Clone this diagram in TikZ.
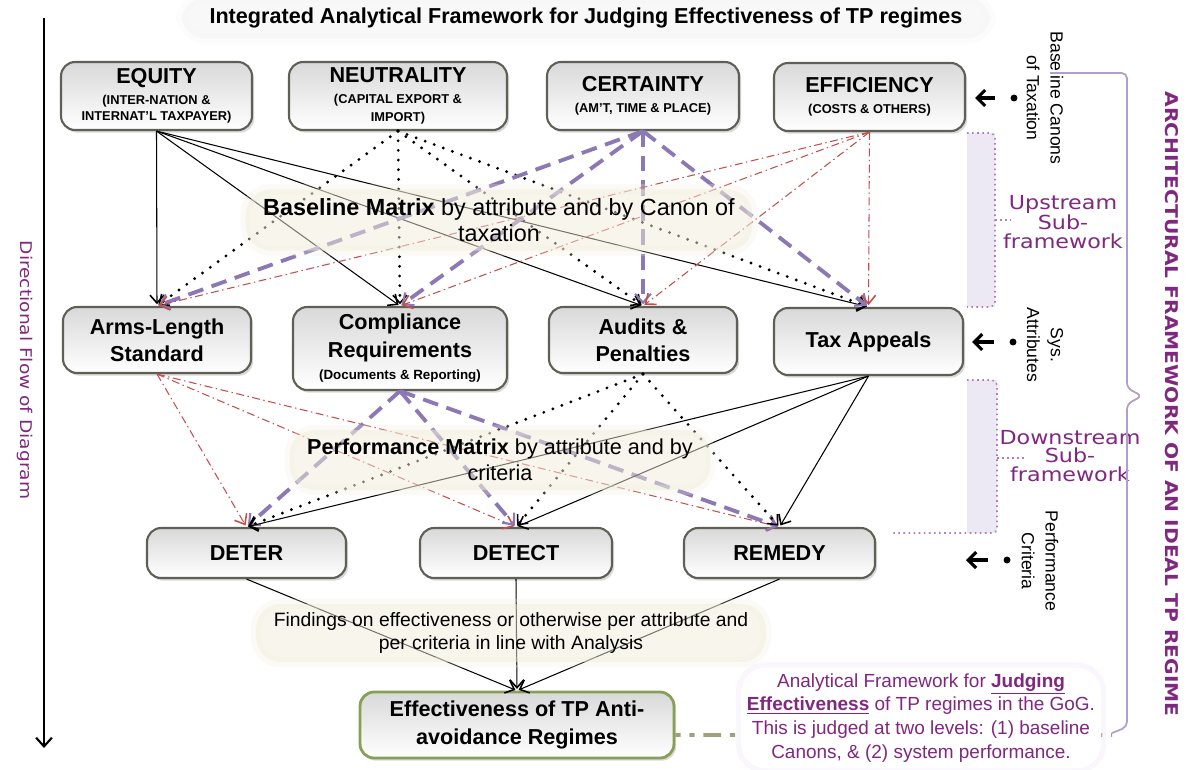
\documentclass[tikz,border=0pt]{standalone}
\usepackage{fontspec}
\setmainfont{Liberation Sans}
\newfontfamily\handfont[FakeStretch=1.15]{DejaVu Sans}
\usetikzlibrary{arrows.meta, shadows}

\definecolor{boxline}{RGB}{95,95,85}
\definecolor{purp}{RGB}{128,40,128}
\definecolor{lavdash}{RGB}{140,120,180}
\definecolor{reddash}{RGB}{192,80,77}
\definecolor{bracefill}{RGB}{236,232,244}
\definecolor{braceline}{RGB}{178,158,202}
\definecolor{effline}{RGB}{135,160,85}
\definecolor{linkdash}{RGB}{160,160,125}
\definecolor{beigeglow}{RGB}{240,236,218}
\definecolor{lavglow}{RGB}{232,224,242}

\newcommand{\boxfont}{\fontsize{12.3}{15.5}\selectfont\bfseries}
\newcommand{\capsnote}{\fontsize{7.3}{8.6}\selectfont\bfseries}
\newcommand{\smallnote}{\fontsize{7.6}{9}\selectfont}

\begin{document}
\begin{tikzpicture}[x=0.02cm, y=-0.02cm,
  canon/.style={draw=boxline, line width=1.2pt, rounded corners=8pt,
    top color=gray!30, bottom color=white, align=center, font=\boxfont,
    drop shadow={opacity=.3, shadow xshift=1.2pt, shadow yshift=-1.5pt}},
  solidln/.style={every edge/.style={draw=black, line width=.6pt, shorten >=1pt,
    -{Straight Barb[length=4.5pt,width=8pt,line width=.9pt]}}},
  dotln/.style={every edge/.style={draw=black, line width=1.8pt, line cap=round,
    dash pattern=on 0pt off 5.5pt, shorten >=1pt,
    -{Straight Barb[length=4.5pt,width=8pt,line width=.9pt]}}},
  lavln/.style={every edge/.style={draw=lavdash, line width=2.2pt, dash pattern=on 9pt off 5pt,
    shorten >=1pt, -{Straight Barb[length=5pt,width=9pt,line width=1.2pt]}}},
  redln/.style={every edge/.style={draw=reddash, line width=.6pt,
    dash pattern=on 4.5pt off 2pt on .8pt off 2pt, shorten >=1pt,
    -{Straight Barb[length=5pt,width=8pt,line width=.9pt]}}},
  glow/.style={preaction={draw=#1, line width=6pt, draw opacity=.25, fill=#1, fill opacity=.5}},
  mtxlbl/.style={align=center, rounded corners=14pt, inner xsep=10pt, inner ysep=5pt},
  sidelbl/.style={rotate=-90, align=center, font=\fontsize{10}{13.5}\selectfont},
  handlbl/.style={align=center, text=purp, font=\handfont\fontsize{11}{10.5}\selectfont},
  sidedot/.style={circle, fill=black, inner sep=1.4pt},
  sidearrow/.style={line width=1.8pt, shorten <=0.3cm,
    -{Straight Barb[length=4.5pt,width=9pt,line width=1.8pt]}},
  bracketln/.style={draw=purp!60, dotted, line width=.9pt},
  braceln/.style={draw=braceline, line width=1pt, rounded corners=3pt},
  linkln/.style={draw=linkdash, line width=2.2pt, dash pattern=on 3pt off 5pt on 3pt off 5pt on 10pt off 5pt},
  flowarrow/.style={draw=black, line width=1pt, -{Straight Barb[length=5pt,width=9pt,line width=1.2pt]}}]
  \useasboundingbox (0,0) rectangle (1189,769);

  % title
  \node[glow=gray!10, rounded corners=14pt, inner xsep=16pt, inner ysep=6pt, font=\boxfont] (title) at (586,18)
    {Integrated Analytical Framework for Judging Effectiveness of TP regimes};

  % canons of taxation
  \node[canon, minimum width=3.82cm, minimum height=1.36cm] (equity) at (156.5,96)
    {EQUITY\\[-3.5pt]{\capsnote (INTER-NATION \&}\\[-6.5pt]{\capsnote INTERNAT'L TAXPAYER)}};
  \node[canon, minimum width=4.36cm, minimum height=1.36cm] (neutral) at (398,96)
    {NEUTRALITY\\[-3.5pt]{\capsnote (CAPITAL EXPORT \&}\\[-5.5pt]{\capsnote IMPORT)}};
  \node[canon, minimum width=3.84cm, minimum height=1.36cm] (certain) at (643,96)
    {CERTAINTY\\[-3.5pt]{\capsnote (AM'T, TIME \& PLACE)}};
  \node[canon, minimum width=3.82cm, minimum height=1.36cm] (effic) at (869.5,97)
    {EFFICIENCY\\[-3.5pt]{\capsnote (COSTS \& OTHERS)}};

  % system attributes
  \node[canon, minimum width=3.76cm, minimum height=1.32cm] (arms) at (157,340) {Arms-Length\\Standard};
  \node[canon, minimum width=4.28cm, minimum height=1.66cm] (compl) at (400,348.5)
    {Compliance\\Requirements\\[-2.5pt]{\smallnote (Documents \& Reporting)}};
  \node[canon, minimum width=3.76cm, minimum height=1.32cm] (audit) at (643,340) {Audits \&\\Penalties};
  \node[canon, minimum width=3.78cm, minimum height=1.34cm] (appeal) at (868.5,341.5) {Tax Appeals};

  % performance criteria
  \node[canon, minimum width=3.98cm, minimum height=1cm] (deter) at (246.5,553) {DETER};
  \node[canon, minimum width=3.84cm, minimum height=1cm] (detect) at (516,553) {DETECT};
  \node[canon, minimum width=3.82cm, minimum height=1cm] (remedy) at (779.5,553) {REMEDY};

  \node[canon, draw=effline, line width=1.6pt, minimum width=6.28cm, minimum height=1.32cm] (eff) at (517,725)
    {Effectiveness of TP Anti-\\avoidance Regimes};

  % canons -> attributes
  \path[solidln] (equity.south) edge (arms.north) edge (compl.north) edge (audit.north) edge (appeal.north);
  \path[dotln] (neutral.south) edge (arms.north) edge (compl.north) edge (audit.north) edge (appeal.north);
  \path[lavln] (certain.south) edge (arms.north) edge (compl.north) edge (audit.north) edge (appeal.north);
  \path[redln] (effic.south) edge (arms.north) edge (compl.north) edge (audit.north) edge (appeal.north);

  % attributes -> criteria
  \path[redln] (arms.south) edge (deter.north) edge (detect.north) edge (remedy.north);
  \path[lavln] (compl.south) edge (deter.north) edge (detect.north) edge (remedy.north);
  \path[dotln] (audit.south) edge (deter.north) edge (detect.north) edge (remedy.north);
  \path[solidln] (appeal.south) edge (deter.north) edge (detect.north) edge (remedy.north);

  % criteria -> effectiveness
  \path[solidln] (deter.south) edge (eff.north) (detect.south) edge (eff.north) (remedy.south) edge (eff.north);

  % matrix labels
  \node[mtxlbl, glow=beigeglow, font=\fontsize{13.3}{15}\selectfont] (baselbl) at (499,220)
    {\textbf{Baseline Matrix} by attribute and by Canon of\\taxation};
  \node[mtxlbl, glow=beigeglow, font=\fontsize{12.3}{15}\selectfont] (perflbl) at (500,460)
    {\textbf{Performance Matrix} by attribute and by\\criteria};
  \node[mtxlbl, glow=beigeglow, font=\fontsize{11}{13}\selectfont] (findlbl) at (511,633)
    {Findings on effectiveness or otherwise per attribute and\\per criteria in line with Analysis};

  % side notes
  \node[sidelbl] (canonlbl) at (1045,98) {Baseline Canons\\of Taxation};
  \node[sidedot] (canondot) at (1014,98) {};
  \coordinate (canontip) at (975,98);
  \draw[sidearrow] (canondot) -- (canontip);

  \node[sidelbl] (syslbl) at (1045,345) {Sys.\\Attributes};
  \node[sidedot] (sysdot) at (1013,342) {};
  \coordinate (systip) at (972,342);
  \draw[sidearrow] (sysdot) -- (systip);

  \node[sidelbl] (critlbl) at (1040,561) {Performance\\Criteria};
  \node[sidedot] (critdot) at (1007,560) {};
  \coordinate (crittip) at (966,560);
  \draw[sidearrow] (critdot) -- (crittip);

  % sub-framework brackets
  \fill[bracefill] (967,133) rectangle (995,307);
  \draw[bracketln, rounded corners=3pt] (967,133) -- (995,133) -- (995,307) -- (967,307);
  \draw[bracketln] (995,220) -- (1011,220);
  \node[handlbl] (upstream) at (1063,222) {Upstream\\Sub-\\framework};

  \fill[bracefill] (967,380) rectangle (997,533);
  \coordinate (downend) at (893,533);
  \draw[bracketln, rounded corners=3pt] (967,380) -- (997,380) -- (997,533) -- (downend);
  \draw[bracketln] (997,458) -- (1025,458);
  \node[handlbl] (downstream) at (1070,456) {Downstream\\Sub-\\framework};

  % architectural brace
  \draw[braceln] (1050,73) -- (1127,73) -- (1127,388) -- (1142,396) -- (1127,404) -- (1127,727) -- (1112,733);
  \node[rotate=-90, text=purp, font=\handfont\bfseries\fontsize{10}{12}\selectfont] (archlbl) at (1172,404)
    {ARCHITECTURAL FRAMEWORK OF AN IDEAL TP REGIME};

  % flow of diagram
  \coordinate (flowtop) at (44,18);
  \coordinate (flowend) at (44,748);
  \draw[flowarrow] (flowtop) -- (flowend);
  \node[rotate=-90, text=purp, font=\handfont\fontsize{9.2}{11}\selectfont] (flowlbl) at (25,370)
    {Directional Flow of Diagram};

  % note on the framework
  \coordinate (linkend) at (1112,735);
  \draw[linkln] ([yshift=-0.2cm]eff.east) -- (linkend);
  \node[glow=lavglow, fill=white, rounded corners=14pt, minimum width=7.2cm, align=center, text=purp,
    font=\fontsize{10.8}{13.6}\selectfont] (analysis) at (921,718)
    {Analytical Framework for \underline{\textbf{Judging}}\\\underline{\textbf{Effectiveness}} of TP regimes in the GoG.\\This is judged at two levels: (1) baseline\\Canons, \& (2) system performance.};
\end{tikzpicture}
\end{document}
